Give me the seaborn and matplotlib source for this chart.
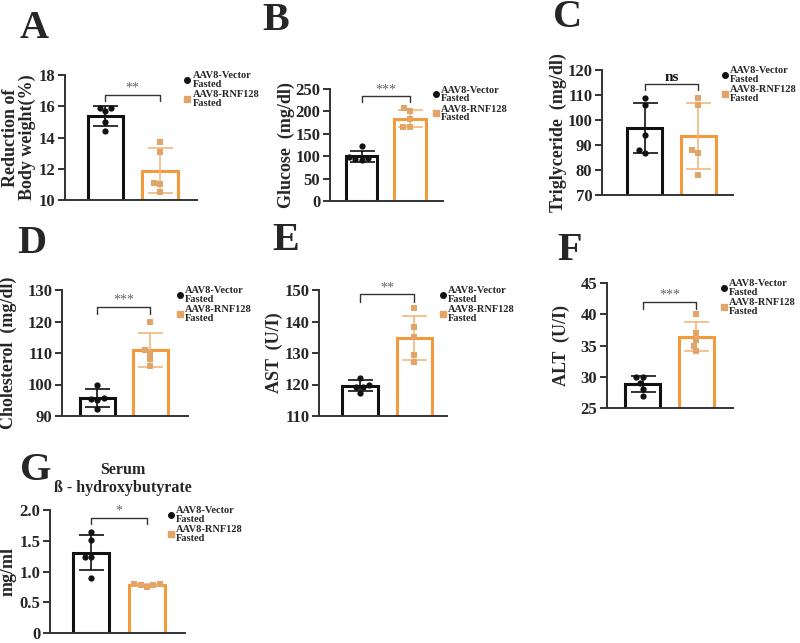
import numpy as np
import pandas as pd
import matplotlib
matplotlib.use("Agg")
import matplotlib.pyplot as plt
import seaborn as sns
from matplotlib.lines import Line2D

# ---- datos ----
grupos = ["AAV8-Vector\nFasted", "AAV8-RNF128\nFasted"]

peso_vector = [15.9, 15.9, 15.7, 15.0, 14.4]
peso_rnf = [13.7, 13.1, 11.1, 11.0, 10.5]

glucosa_vector = [122, 98, 95, 93, 92]
glucosa_rnf = [207, 200, 182, 166, 165]

trig_vector = [109, 106, 94, 88, 87]
trig_rnf = [109, 106, 88, 87, 78]

colest_vector = [100, 95.5, 95.0, 95.7, 92.2]
colest_rnf = [120, 111, 110, 108, 106]

ast_vector = [122.2, 120, 119.2, 117.4, 119.1]
ast_rnf = [144.2, 138.1, 135, 129.4, 127.1]

alt_vector = [30, 30, 29, 28.1, 27]
alt_rnf = [40, 37, 35.9, 35, 34.1]

bhb_vector = [1.64, 1.52, 1.24, 1.24, 0.90]
bhb_rnf = [0.80, 0.79, 0.78, 0.78, 0.75]

significancia = ["**", "***", "ns", "***", "**", "***", "*"]

# ---- estilo ----
sns.set_theme(style="ticks")
plt.rcParams['font.family'] = ['Liberation Serif', 'DejaVu Serif']
plt.rcParams['font.weight'] = 'bold'
plt.rcParams['axes.labelweight'] = 'bold'

NEGRO = "#111111"
NARANJA = "#F39A3C"
NARANJA_PUNTO = "#E3A468"
NARANJA_ERR = "#F6B67C"


def dibujar_panel(fig, rect, vector, rnf, ylim, yticks, yticklabels, ylabel,
                  label_x, xlim, bracket, sig, leg_x):
    ax = fig.add_axes(rect)
    df = pd.DataFrame({
        "grupo": [grupos[0]] * len(vector) + [grupos[1]] * len(rnf),
        "valor": list(vector) + list(rnf),
    })
    sns.barplot(data=df, x="grupo", y="valor", hue="grupo", order=grupos,
                hue_order=grupos, palette=[NEGRO, NARANJA], fill=False,
                errorbar=None, width=0.65, linewidth=2.2, legend=False, ax=ax)

    # desviacion estandar
    resumen = df.groupby("grupo", sort=False)["valor"].agg(["mean", "std"])
    for i, (g, c) in enumerate(zip(grupos, [NEGRO, NARANJA_ERR])):
        ax.errorbar(i, resumen.loc[g, "mean"], yerr=resumen.loc[g, "std"],
                    color=c, capsize=9, elinewidth=1.2, capthick=1.2, zorder=4)

    sns.swarmplot(data=df[df.grupo == grupos[0]], x="grupo", y="valor",
                  order=grupos, color=NEGRO, marker="o", size=4.5, ax=ax, zorder=5)
    sns.swarmplot(data=df[df.grupo == grupos[1]], x="grupo", y="valor",
                  order=grupos, color=NARANJA_PUNTO, marker="s", size=4.5, ax=ax, zorder=5)

    ax.set_xlim(*xlim)
    ax.set_ylim(*ylim)
    ax.set_yticks(yticks)
    ax.set_yticklabels(yticklabels, fontsize=12, fontweight='bold')
    ax.set_xticks([])
    ax.set_xlabel("")
    ax.set_ylabel(ylabel, fontsize=13, fontweight='bold', linespacing=1.0)
    ax.yaxis.set_label_coords(label_x, 0.5)
    sns.despine(ax=ax)
    for s in ["left", "bottom"]:
        ax.spines[s].set_linewidth(1.4)
        ax.spines[s].set_color("#333333")
    ax.tick_params(axis="y", direction="out", length=5, width=1.4, color="#333333", pad=2)

    # corchete de significancia
    y_top, y_low = bracket
    ax.plot([0, 0, 1, 1], [y_low, y_top, y_top, y_low], color="#333333", lw=1.0,
            clip_on=False)
    if sig == "ns":
        ax.text(0.5, y_top, sig, ha="center", va="bottom", fontsize=11,
                fontweight="bold", color=NEGRO)
    else:
        ax.text(0.5, y_top, sig, ha="center", va="bottom", fontsize=10,
                color="#666666", fontweight="normal")

    handles = [
        Line2D([], [], marker="o", color=NEGRO, ls="", markersize=4),
        Line2D([], [], marker="s", color=NARANJA_PUNTO, ls="", markersize=4),
    ]
    leg = ax.legend(handles, grupos, loc="upper left", bbox_to_anchor=(leg_x, 1.03),
                    frameon=False, prop={"size": 7.5, "weight": "bold"},
                    handlelength=0.4, handletextpad=0.3, labelspacing=0.12,
                    borderaxespad=0, borderpad=0)
    for t in leg.get_texts():
        t.set_linespacing(0.95)
    return ax


fig = plt.figure(figsize=(8.0, 6.43), dpi=100)
W, H = 800, 643


def rect_px(left, top, right, bottom):
    return [left / W, 1 - bottom / H, (right - left) / W, (bottom - top) / H]


dibujar_panel(fig, rect_px(65, 75, 197, 200), peso_vector, peso_rnf, (10, 18),
              [10, 12, 14, 16, 18], ["10", "12", "14", "16", "18"],
              "Reduction of\nBody weight(%)", -0.22, (-0.74, 1.68),
              (16.72, 16.35), significancia[0], 0.91)

dibujar_panel(fig, rect_px(330, 89, 443, 201), glucosa_vector, glucosa_rnf, (0, 250),
              [0, 50, 100, 150, 200, 250], ["0", "50", "100", "150", "200", "250"],
              "Glucose  (mg/dl)", -0.31, (-0.65, 1.68),
              (234, 222), significancia[1], 0.92)

dibujar_panel(fig, rect_px(602, 70, 733, 195), trig_vector, trig_rnf, (70, 120),
              [70, 80, 90, 100, 110, 120], ["70", "80", "90", "100", "110", "120"],
              "Triglyceride  (mg/dl)", -0.27, (-0.79, 1.64),
              (114.4, 112.2), significancia[2], 0.92)

dibujar_panel(fig, rect_px(62, 290, 188, 416), colest_vector, colest_rnf, (90, 130),
              [90, 100, 110, 120, 130], ["90", "100", "110", "120", "130"],
              "Cholesterol  (mg/dl)", -0.36, (-0.67, 1.71),
              (124.7, 122.3), significancia[3], 0.92)

dibujar_panel(fig, rect_px(319, 290, 447, 416), ast_vector, ast_rnf, (110, 150),
              [110, 120, 130, 140, 150], ["110", "120", "130", "140", "150"],
              "AST  (U/I)", -0.28, (-0.75, 1.60),
              (148.7, 146.3), significancia[4], 0.95)

dibujar_panel(fig, rect_px(607, 283, 733, 408), alt_vector, alt_rnf, (25, 45),
              [25, 30, 35, 40, 45], ["25", "30", "35", "40", "45"],
              "ALT  (U/I)", -0.29, (-0.66, 1.68),
              (42.0, 40.8), significancia[5], 0.91)

dibujar_panel(fig, rect_px(50, 510, 185, 633), bhb_vector, bhb_rnf, (0, 2.0),
              [0, 0.5, 1.0, 1.5, 2.0], ["0", "0.5", "1.0", "1.5", "2.0"],
              "mg/ml", -0.25, (-0.74, 1.68),
              (1.87, 1.77), significancia[6], 0.88)

# letras de los paneles
letras = [("A", 20, 38), ("B", 262, 30), ("C", 553, 27), ("D", 17, 253),
          ("E", 272, 250), ("F", 557, 260), ("G", 20, 480)]
for letra, px, py in letras:
    fig.text(px / W, 1 - py / H, letra, fontsize=29, fontweight="bold",
             ha="left", va="baseline")

fig.text(123 / W, 1 - 474 / H, "Serum", fontsize=11.5, fontweight="bold",
         ha="center", va="baseline")
fig.text(123 / W, 1 - 492 / H, "ß - hydroxybutyrate", fontsize=11.5, fontweight="bold",
         ha="center", va="baseline")

fig.savefig("out.png", dpi=100)
